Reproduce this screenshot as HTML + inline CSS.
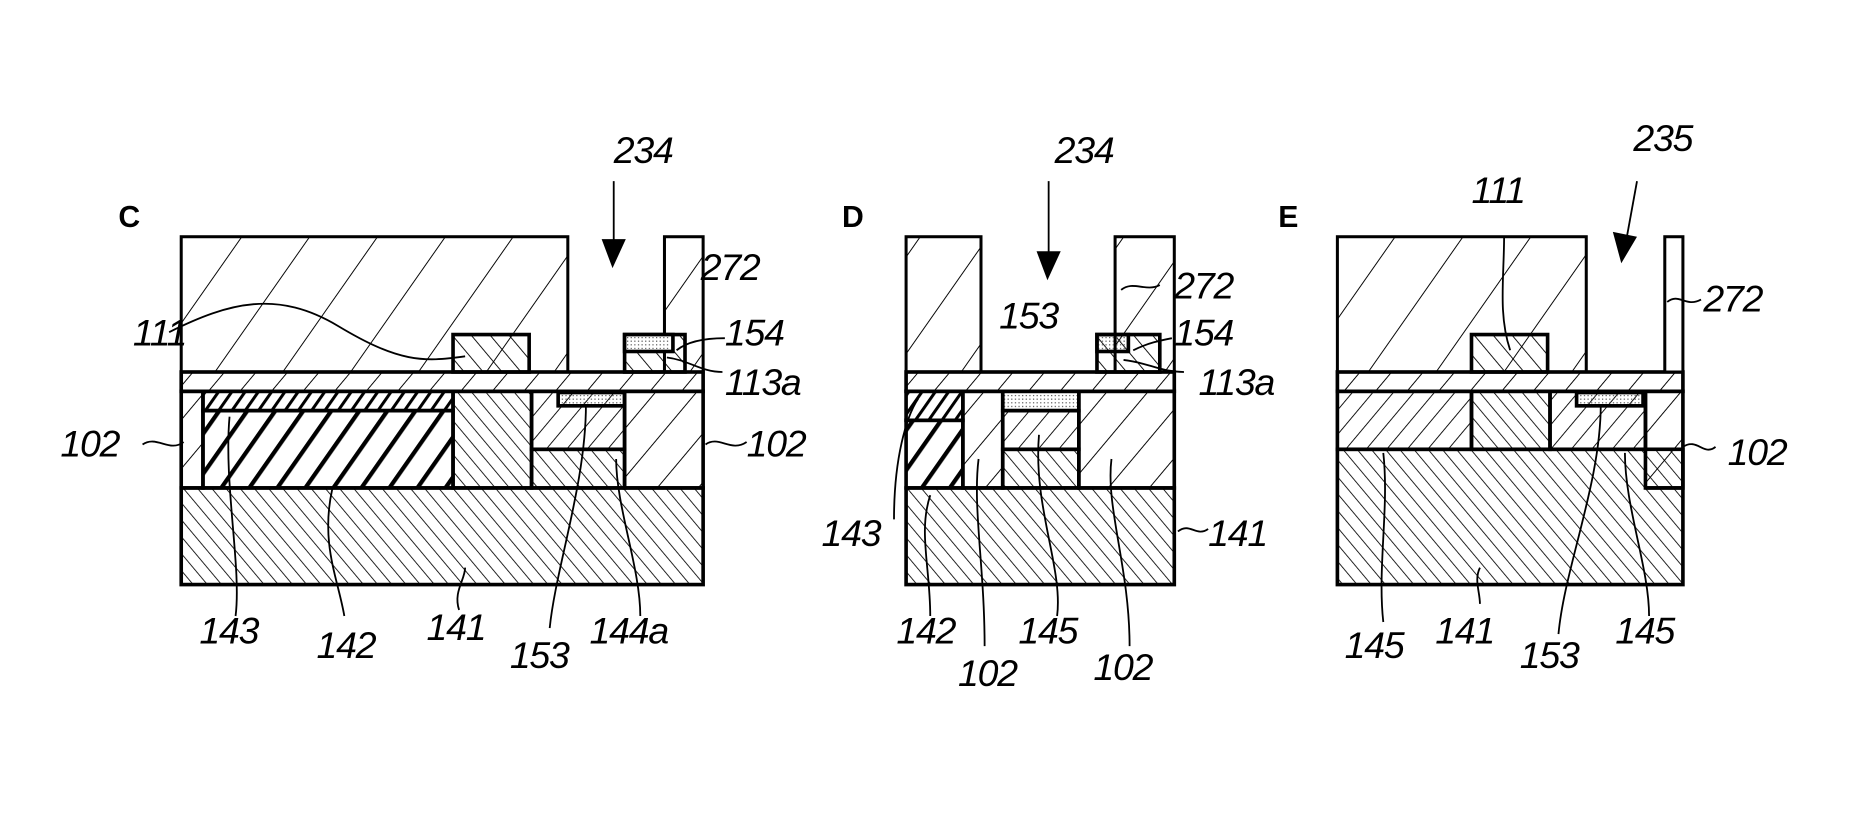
<!DOCTYPE html>
<html><head><meta charset="utf-8"><style>
html,body{margin:0;padding:0;background:#fff;}
svg{display:block}
text{font-family:"Liberation Sans",sans-serif;font-style:italic;font-size:31px;letter-spacing:-1px;fill:#000}
.b{font-style:normal;font-weight:bold;font-size:25px;letter-spacing:0}
</style></head><body>
<svg width="1875" height="837" viewBox="0 0 1552 693" preserveAspectRatio="none" xmlns="http://www.w3.org/2000/svg">
<defs>
<pattern id="pTop" width="46" height="46" patternUnits="userSpaceOnUse" patternTransform="rotate(35)"><line x1="0" y1="0" x2="0" y2="46" stroke="#000" stroke-width="1.6"/></pattern>
<pattern id="pLay" width="20" height="20" patternUnits="userSpaceOnUse" patternTransform="rotate(40)"><line x1="0" y1="0" x2="0" y2="20" stroke="#000" stroke-width="1.6"/></pattern>
<pattern id="p102" width="26" height="26" patternUnits="userSpaceOnUse" patternTransform="rotate(40)"><line x1="0" y1="0" x2="0" y2="26" stroke="#000" stroke-width="1.6"/></pattern>
<pattern id="p141" width="9" height="9" patternUnits="userSpaceOnUse" patternTransform="rotate(-40)"><line x1="0" y1="0" x2="0" y2="9" stroke="#000" stroke-width="1.4"/></pattern>
<pattern id="p111" width="12" height="12" patternUnits="userSpaceOnUse" patternTransform="rotate(-40)"><line x1="0" y1="0" x2="0" y2="12" stroke="#000" stroke-width="1.5"/></pattern>
<pattern id="p145" width="13" height="13" patternUnits="userSpaceOnUse" patternTransform="rotate(40)"><line x1="0" y1="0" x2="0" y2="13" stroke="#000" stroke-width="1.5"/></pattern>
<pattern id="p142" width="19" height="19" patternUnits="userSpaceOnUse" patternTransform="rotate(35)"><line x1="0" y1="0" x2="0" y2="19" stroke="#000" stroke-width="7"/></pattern>
<pattern id="p143" width="9" height="9" patternUnits="userSpaceOnUse" patternTransform="rotate(35)"><line x1="0" y1="0" x2="0" y2="9" stroke="#000" stroke-width="5"/></pattern>
<pattern id="pDot" width="3" height="3" patternUnits="userSpaceOnUse"><rect width="1" height="1" fill="#555"/></pattern>
</defs>
<g stroke="#000" stroke-width="3" fill="none">
<rect x="150" y="404" width="432" height="80" fill="url(#p141)"/>
<rect x="375" y="324" width="65" height="80" fill="url(#p141)"/>
<rect x="440" y="372" width="77" height="32" fill="url(#p141)"/>
<rect x="150" y="324" width="18" height="80" fill="url(#p102)"/>
<rect x="168" y="340" width="207" height="64" fill="url(#p142)"/>
<rect x="168" y="324" width="207" height="16" fill="url(#p143)"/>
<rect x="440" y="324" width="77" height="48" fill="url(#p145)"/>
<rect x="462" y="325" width="55" height="11" fill="url(#pDot)"/>
<rect x="517" y="324" width="65" height="80" fill="url(#p102)"/>
<rect x="150" y="308" width="432" height="16" fill="url(#pLay)"/>
<rect x="150" y="196" width="320" height="112" fill="url(#pTop)" stroke-width="2.5"/>
<rect x="550" y="196" width="32" height="112" fill="url(#pTop)" stroke-width="2.5"/>
<rect x="375" y="277" width="63" height="31" fill="url(#p111)"/>
<rect x="517" y="277" width="50" height="31" fill="url(#p111)"/>
<rect x="517" y="277" width="40" height="14" fill="#fff"/>
<rect x="519" y="279" width="36" height="10" fill="url(#pDot)" stroke="none"/>
<rect x="750" y="404" width="222" height="80" fill="url(#p141)"/>
<rect x="830" y="372" width="63" height="32" fill="url(#p141)"/>
<rect x="750" y="348" width="47" height="56" fill="url(#p142)"/>
<rect x="750" y="324" width="47" height="24" fill="url(#p143)"/>
<rect x="797" y="324" width="33" height="80" fill="url(#p102)"/>
<rect x="830" y="340" width="63" height="32" fill="url(#p145)"/>
<rect x="830" y="324" width="63" height="16" fill="url(#pDot)"/>
<rect x="893" y="324" width="79" height="80" fill="url(#p102)"/>
<rect x="750" y="308" width="222" height="16" fill="url(#pLay)"/>
<rect x="750" y="196" width="62" height="112" fill="url(#pTop)" stroke-width="2.5"/>
<rect x="923" y="196" width="49" height="112" fill="url(#pTop)" stroke-width="2.5"/>
<rect x="908" y="277" width="52" height="31" fill="url(#p111)"/>
<rect x="908" y="277" width="26" height="14" fill="url(#pDot)"/>
<rect x="1107" y="372" width="286" height="112" fill="url(#p141)"/>
<rect x="1218" y="324" width="65" height="48" fill="url(#p141)"/>
<rect x="1107" y="324" width="111" height="48" fill="url(#p145)"/>
<rect x="1283" y="324" width="79" height="48" fill="url(#p145)"/>
<rect x="1305" y="325" width="55" height="11" fill="url(#pDot)"/>
<rect x="1362" y="324" width="31" height="80" fill="url(#p102)"/>
<line x1="1362" y1="404" x2="1393" y2="404"/>
<rect x="1107" y="308" width="286" height="16" fill="url(#pLay)"/>
<rect x="1107" y="196" width="206" height="112" fill="url(#pTop)" stroke-width="2.5"/>
<rect x="1378" y="196" width="15" height="112" fill="#fff" stroke-width="2.5"/>
<rect x="1218" y="277" width="63" height="31" fill="url(#p111)"/>
</g>
<g stroke="#000" stroke-width="1.5" fill="none">
<path d="M140 275 C190 250 230 240 280 270 S350 300 385 295"/>
<path d="M118 368 C130 360 140 375 152 366"/>
<path d="M584 368 C595 360 605 375 618 366"/>
<path d="M560 290 C570 282 585 280 600 280"/>
<path d="M552 296 C570 298 580 308 598 308"/>
<path d="M195 510 C200 470 185 400 190 345"/>
<path d="M285 510 C280 480 265 450 275 405"/>
<path d="M380 505 C375 490 385 480 385 470"/>
<path d="M455 520 C460 470 485 400 485 335"/>
<path d="M530 510 C530 470 510 420 510 380"/>
<path d="M928 240 C938 232 948 242 960 236"/>
<path d="M938 290 C950 284 960 282 970 280"/>
<path d="M930 298 C950 300 960 308 980 308"/>
<path d="M740 430 C740 380 750 345 760 330"/>
<path d="M770 510 C770 470 760 440 770 410"/>
<path d="M815 535 C815 470 805 420 810 380"/>
<path d="M875 510 C880 470 855 420 860 360"/>
<path d="M935 535 C935 470 915 420 920 380"/>
<path d="M975 440 C985 432 990 445 1000 438"/>
<path d="M1380 250 C1390 242 1395 255 1408 248"/>
<path d="M1393 370 C1405 362 1410 378 1420 370"/>
<path d="M1245 195 C1245 230 1240 260 1250 290"/>
<path d="M1145 515 C1140 470 1150 420 1145 375"/>
<path d="M1225 500 C1225 490 1220 480 1225 470"/>
<path d="M1290 525 C1295 470 1325 400 1325 335"/>
<path d="M1365 510 C1365 470 1345 420 1345 375"/>
<path d="M508 150 L508 215"/>
<path d="M868 150 L868 225"/>
<path d="M1355 150 L1345 205"/>
</g>
<g fill="#000">
<polygon points="498,198 518,198 507,222"/>
<polygon points="858,208 878,208 867,232"/>
<polygon points="1335,192 1355,196 1342,218"/>
</g>
<text class="b" x="98" y="188">C</text>
<text class="b" x="697" y="188">D</text>
<text class="b" x="1058" y="188">E</text>
<text x="508" y="135">234</text>
<text x="873" y="135">234</text>
<text x="1352" y="125">235</text>
<text x="1218" y="168">111</text>
<text x="580" y="232">272</text>
<text x="972" y="247">272</text>
<text x="1410" y="258">272</text>
<text x="827" y="272">153</text>
<text x="110" y="286">111</text>
<text x="600" y="286">154</text>
<text x="600" y="327">113a</text>
<text x="972" y="286">154</text>
<text x="992" y="327">113a</text>
<text x="50" y="378">102</text>
<text x="618" y="378">102</text>
<text x="1430" y="385">102</text>
<text x="680" y="452">143</text>
<text x="1000" y="452">141</text>
<text x="165" y="533">143</text>
<text x="262" y="545">142</text>
<text x="353" y="530">141</text>
<text x="422" y="553">153</text>
<text x="488" y="533">144a</text>
<text x="742" y="533">142</text>
<text x="843" y="533">145</text>
<text x="793" y="568">102</text>
<text x="905" y="563">102</text>
<text x="1113" y="545">145</text>
<text x="1188" y="533">141</text>
<text x="1258" y="553">153</text>
<text x="1337" y="533">145</text>
</svg>
</body></html>
